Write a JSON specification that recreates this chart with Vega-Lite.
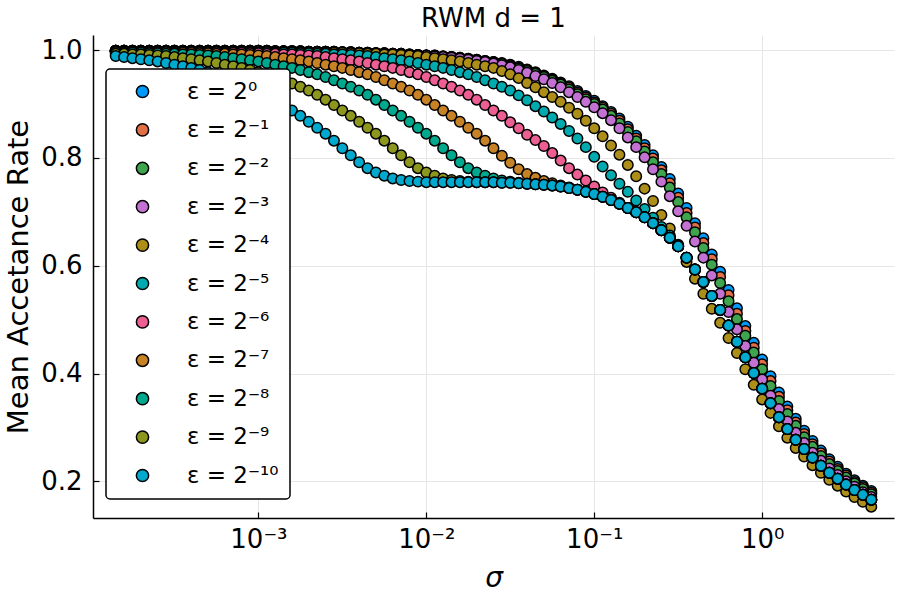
{
"$schema":"https://vega.github.io/schema/vega-lite/v6.json",
"width":801,"height":483,
"autosize":{"type":"none"},
"padding":{"left":93,"top":35,"right":6,"bottom":82},
"background":"white",
"title":{"text":"RWM d = 1","font":"DejaVu Sans","fontSize":26,"fontWeight":"normal","color":"black","anchor":"middle","offset":3},
"data":{"values":[
{"k":0,"s":1.413e-4,"a":0.999},{"k":0,"s":1.585e-4,"a":0.999},{"k":0,"s":1.778e-4,"a":0.999},{"k":0,"s":1.995e-4,"a":0.999},{"k":0,"s":2.239e-4,"a":0.999},{"k":0,"s":2.512e-4,"a":0.999},{"k":0,"s":2.818e-4,"a":0.999},{"k":0,"s":3.162e-4,"a":0.999},{"k":0,"s":3.548e-4,"a":0.999},{"k":0,"s":3.981e-4,"a":0.999},{"k":0,"s":4.467e-4,"a":0.999},{"k":0,"s":5.012e-4,"a":0.999},{"k":0,"s":5.623e-4,"a":0.999},{"k":0,"s":6.31e-4,"a":0.999},{"k":0,"s":7.079e-4,"a":0.999},{"k":0,"s":7.943e-4,"a":0.999},{"k":0,"s":8.913e-4,"a":0.999},{"k":0,"s":0.001,"a":0.999},{"k":0,"s":0.001122,"a":0.999},{"k":0,"s":0.001259,"a":0.998},{"k":0,"s":0.001413,"a":0.998},{"k":0,"s":0.001585,"a":0.998},{"k":0,"s":0.001778,"a":0.998},{"k":0,"s":0.001995,"a":0.997},{"k":0,"s":0.002239,"a":0.997},{"k":0,"s":0.002512,"a":0.997},{"k":0,"s":0.002818,"a":0.997},{"k":0,"s":0.003162,"a":0.996},{"k":0,"s":0.003548,"a":0.996},{"k":0,"s":0.003981,"a":0.995},{"k":0,"s":0.004467,"a":0.995},{"k":0,"s":0.005012,"a":0.994},{"k":0,"s":0.005623,"a":0.994},{"k":0,"s":0.00631,"a":0.993},{"k":0,"s":0.007079,"a":0.993},{"k":0,"s":0.007943,"a":0.992},{"k":0,"s":0.008913,"a":0.991},{"k":0,"s":0.01,"a":0.990},{"k":0,"s":0.01122,"a":0.990},{"k":0,"s":0.01259,"a":0.988},{"k":0,"s":0.01413,"a":0.987},{"k":0,"s":0.01585,"a":0.986},{"k":0,"s":0.01778,"a":0.984},{"k":0,"s":0.01995,"a":0.982},{"k":0,"s":0.02239,"a":0.980},{"k":0,"s":0.02512,"a":0.978},{"k":0,"s":0.02818,"a":0.976},{"k":0,"s":0.03162,"a":0.973},{"k":0,"s":0.03548,"a":0.969},{"k":0,"s":0.03981,"a":0.964},{"k":0,"s":0.04467,"a":0.959},{"k":0,"s":0.05012,"a":0.953},{"k":0,"s":0.05623,"a":0.947},{"k":0,"s":0.0631,"a":0.940},{"k":0,"s":0.07079,"a":0.933},{"k":0,"s":0.07943,"a":0.924},{"k":0,"s":0.08913,"a":0.915},{"k":0,"s":0.1,"a":0.906},{"k":0,"s":0.1122,"a":0.896},{"k":0,"s":0.1259,"a":0.885},{"k":0,"s":0.1413,"a":0.873},{"k":0,"s":0.1585,"a":0.858},{"k":0,"s":0.1778,"a":0.841},{"k":0,"s":0.1995,"a":0.824},{"k":0,"s":0.2239,"a":0.805},{"k":0,"s":0.2512,"a":0.783},{"k":0,"s":0.2818,"a":0.761},{"k":0,"s":0.3162,"a":0.734},{"k":0,"s":0.3548,"a":0.707},{"k":0,"s":0.3981,"a":0.679},{"k":0,"s":0.4467,"a":0.651},{"k":0,"s":0.5012,"a":0.621},{"k":0,"s":0.5623,"a":0.589},{"k":0,"s":0.631,"a":0.555},{"k":0,"s":0.7079,"a":0.521},{"k":0,"s":0.7943,"a":0.488},{"k":0,"s":0.8913,"a":0.457},{"k":0,"s":1,"a":0.426},{"k":0,"s":1.122,"a":0.395},{"k":0,"s":1.259,"a":0.365},{"k":0,"s":1.413,"a":0.339},{"k":0,"s":1.585,"a":0.316},{"k":0,"s":1.778,"a":0.294},{"k":0,"s":1.995,"a":0.275},{"k":0,"s":2.239,"a":0.257},{"k":0,"s":2.512,"a":0.241},{"k":0,"s":2.818,"a":0.227},{"k":0,"s":3.162,"a":0.214},{"k":0,"s":3.548,"a":0.202},{"k":0,"s":3.981,"a":0.192},{"k":0,"s":4.467,"a":0.182},
{"k":1,"s":1.413e-4,"a":0.999},{"k":1,"s":1.585e-4,"a":0.999},{"k":1,"s":1.778e-4,"a":0.999},{"k":1,"s":1.995e-4,"a":0.999},{"k":1,"s":2.239e-4,"a":0.999},{"k":1,"s":2.512e-4,"a":0.999},{"k":1,"s":2.818e-4,"a":0.999},{"k":1,"s":3.162e-4,"a":0.999},{"k":1,"s":3.548e-4,"a":0.999},{"k":1,"s":3.981e-4,"a":0.999},{"k":1,"s":4.467e-4,"a":0.999},{"k":1,"s":5.012e-4,"a":0.999},{"k":1,"s":5.623e-4,"a":0.999},{"k":1,"s":6.31e-4,"a":0.999},{"k":1,"s":7.079e-4,"a":0.999},{"k":1,"s":7.943e-4,"a":0.999},{"k":1,"s":8.913e-4,"a":0.999},{"k":1,"s":0.001,"a":0.999},{"k":1,"s":0.001122,"a":0.999},{"k":1,"s":0.001259,"a":0.998},{"k":1,"s":0.001413,"a":0.998},{"k":1,"s":0.001585,"a":0.998},{"k":1,"s":0.001778,"a":0.998},{"k":1,"s":0.001995,"a":0.997},{"k":1,"s":0.002239,"a":0.997},{"k":1,"s":0.002512,"a":0.997},{"k":1,"s":0.002818,"a":0.997},{"k":1,"s":0.003162,"a":0.996},{"k":1,"s":0.003548,"a":0.996},{"k":1,"s":0.003981,"a":0.995},{"k":1,"s":0.004467,"a":0.995},{"k":1,"s":0.005012,"a":0.994},{"k":1,"s":0.005623,"a":0.994},{"k":1,"s":0.00631,"a":0.993},{"k":1,"s":0.007079,"a":0.993},{"k":1,"s":0.007943,"a":0.992},{"k":1,"s":0.008913,"a":0.991},{"k":1,"s":0.01,"a":0.990},{"k":1,"s":0.01122,"a":0.990},{"k":1,"s":0.01259,"a":0.988},{"k":1,"s":0.01413,"a":0.987},{"k":1,"s":0.01585,"a":0.986},{"k":1,"s":0.01778,"a":0.984},{"k":1,"s":0.01995,"a":0.982},{"k":1,"s":0.02239,"a":0.980},{"k":1,"s":0.02512,"a":0.978},{"k":1,"s":0.02818,"a":0.975},{"k":1,"s":0.03162,"a":0.972},{"k":1,"s":0.03548,"a":0.967},{"k":1,"s":0.03981,"a":0.963},{"k":1,"s":0.04467,"a":0.957},{"k":1,"s":0.05012,"a":0.951},{"k":1,"s":0.05623,"a":0.945},{"k":1,"s":0.0631,"a":0.938},{"k":1,"s":0.07079,"a":0.930},{"k":1,"s":0.07943,"a":0.921},{"k":1,"s":0.08913,"a":0.912},{"k":1,"s":0.1,"a":0.903},{"k":1,"s":0.1122,"a":0.893},{"k":1,"s":0.1259,"a":0.882},{"k":1,"s":0.1413,"a":0.869},{"k":1,"s":0.1585,"a":0.853},{"k":1,"s":0.1778,"a":0.836},{"k":1,"s":0.1995,"a":0.818},{"k":1,"s":0.2239,"a":0.799},{"k":1,"s":0.2512,"a":0.777},{"k":1,"s":0.2818,"a":0.753},{"k":1,"s":0.3162,"a":0.726},{"k":1,"s":0.3548,"a":0.698},{"k":1,"s":0.3981,"a":0.671},{"k":1,"s":0.4467,"a":0.642},{"k":1,"s":0.5012,"a":0.612},{"k":1,"s":0.5623,"a":0.579},{"k":1,"s":0.631,"a":0.545},{"k":1,"s":0.7079,"a":0.511},{"k":1,"s":0.7943,"a":0.479},{"k":1,"s":0.8913,"a":0.448},{"k":1,"s":1,"a":0.417},{"k":1,"s":1.122,"a":0.386},{"k":1,"s":1.259,"a":0.357},{"k":1,"s":1.413,"a":0.332},{"k":1,"s":1.585,"a":0.309},{"k":1,"s":1.778,"a":0.288},{"k":1,"s":1.995,"a":0.269},{"k":1,"s":2.239,"a":0.252},{"k":1,"s":2.512,"a":0.237},{"k":1,"s":2.818,"a":0.223},{"k":1,"s":3.162,"a":0.211},{"k":1,"s":3.548,"a":0.199},{"k":1,"s":3.981,"a":0.189},{"k":1,"s":4.467,"a":0.179},
{"k":2,"s":1.413e-4,"a":0.999},{"k":2,"s":1.585e-4,"a":0.999},{"k":2,"s":1.778e-4,"a":0.999},{"k":2,"s":1.995e-4,"a":0.999},{"k":2,"s":2.239e-4,"a":0.999},{"k":2,"s":2.512e-4,"a":0.999},{"k":2,"s":2.818e-4,"a":0.999},{"k":2,"s":3.162e-4,"a":0.999},{"k":2,"s":3.548e-4,"a":0.999},{"k":2,"s":3.981e-4,"a":0.999},{"k":2,"s":4.467e-4,"a":0.999},{"k":2,"s":5.012e-4,"a":0.999},{"k":2,"s":5.623e-4,"a":0.999},{"k":2,"s":6.31e-4,"a":0.999},{"k":2,"s":7.079e-4,"a":0.999},{"k":2,"s":7.943e-4,"a":0.999},{"k":2,"s":8.913e-4,"a":0.999},{"k":2,"s":0.001,"a":0.999},{"k":2,"s":0.001122,"a":0.999},{"k":2,"s":0.001259,"a":0.998},{"k":2,"s":0.001413,"a":0.998},{"k":2,"s":0.001585,"a":0.998},{"k":2,"s":0.001778,"a":0.998},{"k":2,"s":0.001995,"a":0.997},{"k":2,"s":0.002239,"a":0.997},{"k":2,"s":0.002512,"a":0.997},{"k":2,"s":0.002818,"a":0.997},{"k":2,"s":0.003162,"a":0.996},{"k":2,"s":0.003548,"a":0.996},{"k":2,"s":0.003981,"a":0.995},{"k":2,"s":0.004467,"a":0.995},{"k":2,"s":0.005012,"a":0.994},{"k":2,"s":0.005623,"a":0.994},{"k":2,"s":0.00631,"a":0.993},{"k":2,"s":0.007079,"a":0.993},{"k":2,"s":0.007943,"a":0.992},{"k":2,"s":0.008913,"a":0.991},{"k":2,"s":0.01,"a":0.990},{"k":2,"s":0.01122,"a":0.989},{"k":2,"s":0.01259,"a":0.988},{"k":2,"s":0.01413,"a":0.987},{"k":2,"s":0.01585,"a":0.985},{"k":2,"s":0.01778,"a":0.983},{"k":2,"s":0.01995,"a":0.981},{"k":2,"s":0.02239,"a":0.979},{"k":2,"s":0.02512,"a":0.977},{"k":2,"s":0.02818,"a":0.974},{"k":2,"s":0.03162,"a":0.970},{"k":2,"s":0.03548,"a":0.966},{"k":2,"s":0.03981,"a":0.961},{"k":2,"s":0.04467,"a":0.956},{"k":2,"s":0.05012,"a":0.950},{"k":2,"s":0.05623,"a":0.943},{"k":2,"s":0.0631,"a":0.936},{"k":2,"s":0.07079,"a":0.927},{"k":2,"s":0.07943,"a":0.918},{"k":2,"s":0.08913,"a":0.909},{"k":2,"s":0.1,"a":0.900},{"k":2,"s":0.1122,"a":0.890},{"k":2,"s":0.1259,"a":0.878},{"k":2,"s":0.1413,"a":0.864},{"k":2,"s":0.1585,"a":0.848},{"k":2,"s":0.1778,"a":0.831},{"k":2,"s":0.1995,"a":0.812},{"k":2,"s":0.2239,"a":0.792},{"k":2,"s":0.2512,"a":0.770},{"k":2,"s":0.2818,"a":0.745},{"k":2,"s":0.3162,"a":0.718},{"k":2,"s":0.3548,"a":0.690},{"k":2,"s":0.3981,"a":0.662},{"k":2,"s":0.4467,"a":0.633},{"k":2,"s":0.5012,"a":0.602},{"k":2,"s":0.5623,"a":0.568},{"k":2,"s":0.631,"a":0.534},{"k":2,"s":0.7079,"a":0.501},{"k":2,"s":0.7943,"a":0.470},{"k":2,"s":0.8913,"a":0.439},{"k":2,"s":1,"a":0.408},{"k":2,"s":1.122,"a":0.377},{"k":2,"s":1.259,"a":0.349},{"k":2,"s":1.413,"a":0.325},{"k":2,"s":1.585,"a":0.303},{"k":2,"s":1.778,"a":0.282},{"k":2,"s":1.995,"a":0.264},{"k":2,"s":2.239,"a":0.247},{"k":2,"s":2.512,"a":0.232},{"k":2,"s":2.818,"a":0.219},{"k":2,"s":3.162,"a":0.207},{"k":2,"s":3.548,"a":0.196},{"k":2,"s":3.981,"a":0.186},{"k":2,"s":4.467,"a":0.176},
{"k":3,"s":1.413e-4,"a":0.999},{"k":3,"s":1.585e-4,"a":0.999},{"k":3,"s":1.778e-4,"a":0.999},{"k":3,"s":1.995e-4,"a":0.999},{"k":3,"s":2.239e-4,"a":0.999},{"k":3,"s":2.512e-4,"a":0.999},{"k":3,"s":2.818e-4,"a":0.999},{"k":3,"s":3.162e-4,"a":0.999},{"k":3,"s":3.548e-4,"a":0.999},{"k":3,"s":3.981e-4,"a":0.999},{"k":3,"s":4.467e-4,"a":0.999},{"k":3,"s":5.012e-4,"a":0.999},{"k":3,"s":5.623e-4,"a":0.999},{"k":3,"s":6.31e-4,"a":0.999},{"k":3,"s":7.079e-4,"a":0.999},{"k":3,"s":7.943e-4,"a":0.999},{"k":3,"s":8.913e-4,"a":0.999},{"k":3,"s":0.001,"a":0.999},{"k":3,"s":0.001122,"a":0.998},{"k":3,"s":0.001259,"a":0.998},{"k":3,"s":0.001413,"a":0.998},{"k":3,"s":0.001585,"a":0.998},{"k":3,"s":0.001778,"a":0.997},{"k":3,"s":0.001995,"a":0.997},{"k":3,"s":0.002239,"a":0.997},{"k":3,"s":0.002512,"a":0.997},{"k":3,"s":0.002818,"a":0.996},{"k":3,"s":0.003162,"a":0.996},{"k":3,"s":0.003548,"a":0.995},{"k":3,"s":0.003981,"a":0.995},{"k":3,"s":0.004467,"a":0.994},{"k":3,"s":0.005012,"a":0.994},{"k":3,"s":0.005623,"a":0.993},{"k":3,"s":0.00631,"a":0.993},{"k":3,"s":0.007079,"a":0.992},{"k":3,"s":0.007943,"a":0.991},{"k":3,"s":0.008913,"a":0.990},{"k":3,"s":0.01,"a":0.990},{"k":3,"s":0.01122,"a":0.988},{"k":3,"s":0.01259,"a":0.987},{"k":3,"s":0.01413,"a":0.986},{"k":3,"s":0.01585,"a":0.984},{"k":3,"s":0.01778,"a":0.982},{"k":3,"s":0.01995,"a":0.980},{"k":3,"s":0.02239,"a":0.978},{"k":3,"s":0.02512,"a":0.975},{"k":3,"s":0.02818,"a":0.972},{"k":3,"s":0.03162,"a":0.968},{"k":3,"s":0.03548,"a":0.963},{"k":3,"s":0.03981,"a":0.958},{"k":3,"s":0.04467,"a":0.952},{"k":3,"s":0.05012,"a":0.946},{"k":3,"s":0.05623,"a":0.939},{"k":3,"s":0.0631,"a":0.931},{"k":3,"s":0.07079,"a":0.922},{"k":3,"s":0.07943,"a":0.913},{"k":3,"s":0.08913,"a":0.904},{"k":3,"s":0.1,"a":0.894},{"k":3,"s":0.1122,"a":0.883},{"k":3,"s":0.1259,"a":0.870},{"k":3,"s":0.1413,"a":0.855},{"k":3,"s":0.1585,"a":0.838},{"k":3,"s":0.1778,"a":0.820},{"k":3,"s":0.1995,"a":0.801},{"k":3,"s":0.2239,"a":0.779},{"k":3,"s":0.2512,"a":0.756},{"k":3,"s":0.2818,"a":0.729},{"k":3,"s":0.3162,"a":0.701},{"k":3,"s":0.3548,"a":0.674},{"k":3,"s":0.3981,"a":0.645},{"k":3,"s":0.4467,"a":0.615},{"k":3,"s":0.5012,"a":0.582},{"k":3,"s":0.5623,"a":0.548},{"k":3,"s":0.631,"a":0.514},{"k":3,"s":0.7079,"a":0.482},{"k":3,"s":0.7943,"a":0.451},{"k":3,"s":0.8913,"a":0.420},{"k":3,"s":1,"a":0.389},{"k":3,"s":1.122,"a":0.359},{"k":3,"s":1.259,"a":0.334},{"k":3,"s":1.413,"a":0.311},{"k":3,"s":1.585,"a":0.290},{"k":3,"s":1.778,"a":0.271},{"k":3,"s":1.995,"a":0.253},{"k":3,"s":2.239,"a":0.238},{"k":3,"s":2.512,"a":0.224},{"k":3,"s":2.818,"a":0.212},{"k":3,"s":3.162,"a":0.200},{"k":3,"s":3.548,"a":0.190},{"k":3,"s":3.981,"a":0.180},{"k":3,"s":4.467,"a":0.171},
{"k":4,"s":1.413e-4,"a":0.999},{"k":4,"s":1.585e-4,"a":0.999},{"k":4,"s":1.778e-4,"a":0.999},{"k":4,"s":1.995e-4,"a":0.999},{"k":4,"s":2.239e-4,"a":0.999},{"k":4,"s":2.512e-4,"a":0.999},{"k":4,"s":2.818e-4,"a":0.999},{"k":4,"s":3.162e-4,"a":0.999},{"k":4,"s":3.548e-4,"a":0.998},{"k":4,"s":3.981e-4,"a":0.998},{"k":4,"s":4.467e-4,"a":0.998},{"k":4,"s":5.012e-4,"a":0.998},{"k":4,"s":5.623e-4,"a":0.998},{"k":4,"s":6.31e-4,"a":0.998},{"k":4,"s":7.079e-4,"a":0.998},{"k":4,"s":7.943e-4,"a":0.998},{"k":4,"s":8.913e-4,"a":0.998},{"k":4,"s":0.001,"a":0.998},{"k":4,"s":0.001122,"a":0.998},{"k":4,"s":0.001259,"a":0.997},{"k":4,"s":0.001413,"a":0.997},{"k":4,"s":0.001585,"a":0.997},{"k":4,"s":0.001778,"a":0.996},{"k":4,"s":0.001995,"a":0.996},{"k":4,"s":0.002239,"a":0.996},{"k":4,"s":0.002512,"a":0.995},{"k":4,"s":0.002818,"a":0.995},{"k":4,"s":0.003162,"a":0.995},{"k":4,"s":0.003548,"a":0.994},{"k":4,"s":0.003981,"a":0.994},{"k":4,"s":0.004467,"a":0.993},{"k":4,"s":0.005012,"a":0.993},{"k":4,"s":0.005623,"a":0.992},{"k":4,"s":0.00631,"a":0.992},{"k":4,"s":0.007079,"a":0.991},{"k":4,"s":0.007943,"a":0.990},{"k":4,"s":0.008913,"a":0.989},{"k":4,"s":0.01,"a":0.987},{"k":4,"s":0.01122,"a":0.985},{"k":4,"s":0.01259,"a":0.983},{"k":4,"s":0.01413,"a":0.981},{"k":4,"s":0.01585,"a":0.979},{"k":4,"s":0.01778,"a":0.976},{"k":4,"s":0.01995,"a":0.973},{"k":4,"s":0.02239,"a":0.970},{"k":4,"s":0.02512,"a":0.967},{"k":4,"s":0.02818,"a":0.961},{"k":4,"s":0.03162,"a":0.955},{"k":4,"s":0.03548,"a":0.948},{"k":4,"s":0.03981,"a":0.939},{"k":4,"s":0.04467,"a":0.931},{"k":4,"s":0.05012,"a":0.922},{"k":4,"s":0.05623,"a":0.913},{"k":4,"s":0.0631,"a":0.904},{"k":4,"s":0.07079,"a":0.893},{"k":4,"s":0.07943,"a":0.882},{"k":4,"s":0.08913,"a":0.869},{"k":4,"s":0.1,"a":0.855},{"k":4,"s":0.1122,"a":0.840},{"k":4,"s":0.1259,"a":0.823},{"k":4,"s":0.1413,"a":0.806},{"k":4,"s":0.1585,"a":0.787},{"k":4,"s":0.1778,"a":0.766},{"k":4,"s":0.1995,"a":0.743},{"k":4,"s":0.2239,"a":0.720},{"k":4,"s":0.2512,"a":0.694},{"k":4,"s":0.2818,"a":0.669},{"k":4,"s":0.3162,"a":0.639},{"k":4,"s":0.3548,"a":0.607},{"k":4,"s":0.3981,"a":0.576},{"k":4,"s":0.4467,"a":0.548},{"k":4,"s":0.5012,"a":0.520},{"k":4,"s":0.5623,"a":0.494},{"k":4,"s":0.631,"a":0.466},{"k":4,"s":0.7079,"a":0.438},{"k":4,"s":0.7943,"a":0.408},{"k":4,"s":0.8913,"a":0.379},{"k":4,"s":1,"a":0.352},{"k":4,"s":1.122,"a":0.327},{"k":4,"s":1.259,"a":0.302},{"k":4,"s":1.413,"a":0.281},{"k":4,"s":1.585,"a":0.262},{"k":4,"s":1.778,"a":0.246},{"k":4,"s":1.995,"a":0.230},{"k":4,"s":2.239,"a":0.216},{"k":4,"s":2.512,"a":0.203},{"k":4,"s":2.818,"a":0.192},{"k":4,"s":3.162,"a":0.181},{"k":4,"s":3.548,"a":0.171},{"k":4,"s":3.981,"a":0.162},{"k":4,"s":4.467,"a":0.153},
{"k":5,"s":1.413e-4,"a":0.999},{"k":5,"s":1.585e-4,"a":0.999},{"k":5,"s":1.778e-4,"a":0.998},{"k":5,"s":1.995e-4,"a":0.998},{"k":5,"s":2.239e-4,"a":0.998},{"k":5,"s":2.512e-4,"a":0.998},{"k":5,"s":2.818e-4,"a":0.998},{"k":5,"s":3.162e-4,"a":0.998},{"k":5,"s":3.548e-4,"a":0.998},{"k":5,"s":3.981e-4,"a":0.998},{"k":5,"s":4.467e-4,"a":0.998},{"k":5,"s":5.012e-4,"a":0.998},{"k":5,"s":5.623e-4,"a":0.998},{"k":5,"s":6.31e-4,"a":0.997},{"k":5,"s":7.079e-4,"a":0.997},{"k":5,"s":7.943e-4,"a":0.997},{"k":5,"s":8.913e-4,"a":0.996},{"k":5,"s":0.001,"a":0.996},{"k":5,"s":0.001122,"a":0.996},{"k":5,"s":0.001259,"a":0.995},{"k":5,"s":0.001413,"a":0.995},{"k":5,"s":0.001585,"a":0.995},{"k":5,"s":0.001778,"a":0.994},{"k":5,"s":0.001995,"a":0.994},{"k":5,"s":0.002239,"a":0.993},{"k":5,"s":0.002512,"a":0.993},{"k":5,"s":0.002818,"a":0.992},{"k":5,"s":0.003162,"a":0.992},{"k":5,"s":0.003548,"a":0.991},{"k":5,"s":0.003981,"a":0.990},{"k":5,"s":0.004467,"a":0.989},{"k":5,"s":0.005012,"a":0.987},{"k":5,"s":0.005623,"a":0.985},{"k":5,"s":0.00631,"a":0.983},{"k":5,"s":0.007079,"a":0.981},{"k":5,"s":0.007943,"a":0.979},{"k":5,"s":0.008913,"a":0.976},{"k":5,"s":0.01,"a":0.973},{"k":5,"s":0.01122,"a":0.970},{"k":5,"s":0.01259,"a":0.967},{"k":5,"s":0.01413,"a":0.963},{"k":5,"s":0.01585,"a":0.959},{"k":5,"s":0.01778,"a":0.955},{"k":5,"s":0.01995,"a":0.950},{"k":5,"s":0.02239,"a":0.944},{"k":5,"s":0.02512,"a":0.938},{"k":5,"s":0.02818,"a":0.932},{"k":5,"s":0.03162,"a":0.925},{"k":5,"s":0.03548,"a":0.916},{"k":5,"s":0.03981,"a":0.907},{"k":5,"s":0.04467,"a":0.896},{"k":5,"s":0.05012,"a":0.886},{"k":5,"s":0.05623,"a":0.875},{"k":5,"s":0.0631,"a":0.863},{"k":5,"s":0.07079,"a":0.850},{"k":5,"s":0.07943,"a":0.836},{"k":5,"s":0.08913,"a":0.820},{"k":5,"s":0.1,"a":0.802},{"k":5,"s":0.1122,"a":0.784},{"k":5,"s":0.1259,"a":0.768},{"k":5,"s":0.1413,"a":0.752},{"k":5,"s":0.1585,"a":0.737},{"k":5,"s":0.1778,"a":0.721},{"k":5,"s":0.1995,"a":0.705},{"k":5,"s":0.2239,"a":0.689},{"k":5,"s":0.2512,"a":0.672},{"k":5,"s":0.2818,"a":0.656},{"k":5,"s":0.3162,"a":0.636},{"k":5,"s":0.3548,"a":0.615},{"k":5,"s":0.3981,"a":0.593},{"k":5,"s":0.4467,"a":0.570},{"k":5,"s":0.5012,"a":0.544},{"k":5,"s":0.5623,"a":0.518},{"k":5,"s":0.631,"a":0.489},{"k":5,"s":0.7079,"a":0.459},{"k":5,"s":0.7943,"a":0.430},{"k":5,"s":0.8913,"a":0.401},{"k":5,"s":1,"a":0.372},{"k":5,"s":1.122,"a":0.345},{"k":5,"s":1.259,"a":0.319},{"k":5,"s":1.413,"a":0.297},{"k":5,"s":1.585,"a":0.277},{"k":5,"s":1.778,"a":0.260},{"k":5,"s":1.995,"a":0.244},{"k":5,"s":2.239,"a":0.229},{"k":5,"s":2.512,"a":0.216},{"k":5,"s":2.818,"a":0.205},{"k":5,"s":3.162,"a":0.194},{"k":5,"s":3.548,"a":0.184},{"k":5,"s":3.981,"a":0.175},{"k":5,"s":4.467,"a":0.166},
{"k":6,"s":1.413e-4,"a":0.998},{"k":6,"s":1.585e-4,"a":0.998},{"k":6,"s":1.778e-4,"a":0.998},{"k":6,"s":1.995e-4,"a":0.998},{"k":6,"s":2.239e-4,"a":0.998},{"k":6,"s":2.512e-4,"a":0.998},{"k":6,"s":2.818e-4,"a":0.998},{"k":6,"s":3.162e-4,"a":0.997},{"k":6,"s":3.548e-4,"a":0.997},{"k":6,"s":3.981e-4,"a":0.997},{"k":6,"s":4.467e-4,"a":0.996},{"k":6,"s":5.012e-4,"a":0.996},{"k":6,"s":5.623e-4,"a":0.996},{"k":6,"s":6.31e-4,"a":0.995},{"k":6,"s":7.079e-4,"a":0.995},{"k":6,"s":7.943e-4,"a":0.995},{"k":6,"s":8.913e-4,"a":0.994},{"k":6,"s":0.001,"a":0.994},{"k":6,"s":0.001122,"a":0.993},{"k":6,"s":0.001259,"a":0.993},{"k":6,"s":0.001413,"a":0.992},{"k":6,"s":0.001585,"a":0.992},{"k":6,"s":0.001778,"a":0.991},{"k":6,"s":0.001995,"a":0.990},{"k":6,"s":0.002239,"a":0.989},{"k":6,"s":0.002512,"a":0.987},{"k":6,"s":0.002818,"a":0.985},{"k":6,"s":0.003162,"a":0.983},{"k":6,"s":0.003548,"a":0.981},{"k":6,"s":0.003981,"a":0.979},{"k":6,"s":0.004467,"a":0.976},{"k":6,"s":0.005012,"a":0.973},{"k":6,"s":0.005623,"a":0.970},{"k":6,"s":0.00631,"a":0.967},{"k":6,"s":0.007079,"a":0.963},{"k":6,"s":0.007943,"a":0.959},{"k":6,"s":0.008913,"a":0.955},{"k":6,"s":0.01,"a":0.950},{"k":6,"s":0.01122,"a":0.944},{"k":6,"s":0.01259,"a":0.938},{"k":6,"s":0.01413,"a":0.932},{"k":6,"s":0.01585,"a":0.925},{"k":6,"s":0.01778,"a":0.917},{"k":6,"s":0.01995,"a":0.908},{"k":6,"s":0.02239,"a":0.898},{"k":6,"s":0.02512,"a":0.888},{"k":6,"s":0.02818,"a":0.878},{"k":6,"s":0.03162,"a":0.866},{"k":6,"s":0.03548,"a":0.855},{"k":6,"s":0.03981,"a":0.843},{"k":6,"s":0.04467,"a":0.833},{"k":6,"s":0.05012,"a":0.822},{"k":6,"s":0.05623,"a":0.809},{"k":6,"s":0.0631,"a":0.795},{"k":6,"s":0.07079,"a":0.781},{"k":6,"s":0.07943,"a":0.769},{"k":6,"s":0.08913,"a":0.758},{"k":6,"s":0.1,"a":0.747},{"k":6,"s":0.1122,"a":0.736},{"k":6,"s":0.1259,"a":0.726},{"k":6,"s":0.1413,"a":0.717},{"k":6,"s":0.1585,"a":0.707},{"k":6,"s":0.1778,"a":0.699},{"k":6,"s":0.1995,"a":0.690},{"k":6,"s":0.2239,"a":0.679},{"k":6,"s":0.2512,"a":0.666},{"k":6,"s":0.2818,"a":0.652},{"k":6,"s":0.3162,"a":0.636},{"k":6,"s":0.3548,"a":0.615},{"k":6,"s":0.3981,"a":0.593},{"k":6,"s":0.4467,"a":0.570},{"k":6,"s":0.5012,"a":0.544},{"k":6,"s":0.5623,"a":0.518},{"k":6,"s":0.631,"a":0.489},{"k":6,"s":0.7079,"a":0.459},{"k":6,"s":0.7943,"a":0.430},{"k":6,"s":0.8913,"a":0.401},{"k":6,"s":1,"a":0.372},{"k":6,"s":1.122,"a":0.345},{"k":6,"s":1.259,"a":0.319},{"k":6,"s":1.413,"a":0.297},{"k":6,"s":1.585,"a":0.277},{"k":6,"s":1.778,"a":0.260},{"k":6,"s":1.995,"a":0.244},{"k":6,"s":2.239,"a":0.229},{"k":6,"s":2.512,"a":0.216},{"k":6,"s":2.818,"a":0.205},{"k":6,"s":3.162,"a":0.194},{"k":6,"s":3.548,"a":0.184},{"k":6,"s":3.981,"a":0.175},{"k":6,"s":4.467,"a":0.166},
{"k":7,"s":1.413e-4,"a":0.998},{"k":7,"s":1.585e-4,"a":0.997},{"k":7,"s":1.778e-4,"a":0.997},{"k":7,"s":1.995e-4,"a":0.997},{"k":7,"s":2.239e-4,"a":0.996},{"k":7,"s":2.512e-4,"a":0.996},{"k":7,"s":2.818e-4,"a":0.996},{"k":7,"s":3.162e-4,"a":0.995},{"k":7,"s":3.548e-4,"a":0.995},{"k":7,"s":3.981e-4,"a":0.995},{"k":7,"s":4.467e-4,"a":0.994},{"k":7,"s":5.012e-4,"a":0.994},{"k":7,"s":5.623e-4,"a":0.993},{"k":7,"s":6.31e-4,"a":0.993},{"k":7,"s":7.079e-4,"a":0.992},{"k":7,"s":7.943e-4,"a":0.992},{"k":7,"s":8.913e-4,"a":0.991},{"k":7,"s":0.001,"a":0.990},{"k":7,"s":0.001122,"a":0.989},{"k":7,"s":0.001259,"a":0.987},{"k":7,"s":0.001413,"a":0.985},{"k":7,"s":0.001585,"a":0.983},{"k":7,"s":0.001778,"a":0.981},{"k":7,"s":0.001995,"a":0.979},{"k":7,"s":0.002239,"a":0.976},{"k":7,"s":0.002512,"a":0.973},{"k":7,"s":0.002818,"a":0.970},{"k":7,"s":0.003162,"a":0.967},{"k":7,"s":0.003548,"a":0.963},{"k":7,"s":0.003981,"a":0.959},{"k":7,"s":0.004467,"a":0.955},{"k":7,"s":0.005012,"a":0.950},{"k":7,"s":0.005623,"a":0.944},{"k":7,"s":0.00631,"a":0.938},{"k":7,"s":0.007079,"a":0.932},{"k":7,"s":0.007943,"a":0.925},{"k":7,"s":0.008913,"a":0.917},{"k":7,"s":0.01,"a":0.908},{"k":7,"s":0.01122,"a":0.898},{"k":7,"s":0.01259,"a":0.888},{"k":7,"s":0.01413,"a":0.878},{"k":7,"s":0.01585,"a":0.867},{"k":7,"s":0.01778,"a":0.856},{"k":7,"s":0.01995,"a":0.845},{"k":7,"s":0.02239,"a":0.832},{"k":7,"s":0.02512,"a":0.818},{"k":7,"s":0.02818,"a":0.804},{"k":7,"s":0.03162,"a":0.791},{"k":7,"s":0.03548,"a":0.779},{"k":7,"s":0.03981,"a":0.770},{"k":7,"s":0.04467,"a":0.763},{"k":7,"s":0.05012,"a":0.757},{"k":7,"s":0.05623,"a":0.753},{"k":7,"s":0.0631,"a":0.749},{"k":7,"s":0.07079,"a":0.745},{"k":7,"s":0.07943,"a":0.741},{"k":7,"s":0.08913,"a":0.737},{"k":7,"s":0.1,"a":0.733},{"k":7,"s":0.1122,"a":0.728},{"k":7,"s":0.1259,"a":0.722},{"k":7,"s":0.1413,"a":0.715},{"k":7,"s":0.1585,"a":0.707},{"k":7,"s":0.1778,"a":0.699},{"k":7,"s":0.1995,"a":0.690},{"k":7,"s":0.2239,"a":0.679},{"k":7,"s":0.2512,"a":0.666},{"k":7,"s":0.2818,"a":0.652},{"k":7,"s":0.3162,"a":0.636},{"k":7,"s":0.3548,"a":0.615},{"k":7,"s":0.3981,"a":0.593},{"k":7,"s":0.4467,"a":0.570},{"k":7,"s":0.5012,"a":0.544},{"k":7,"s":0.5623,"a":0.518},{"k":7,"s":0.631,"a":0.489},{"k":7,"s":0.7079,"a":0.459},{"k":7,"s":0.7943,"a":0.430},{"k":7,"s":0.8913,"a":0.401},{"k":7,"s":1,"a":0.372},{"k":7,"s":1.122,"a":0.345},{"k":7,"s":1.259,"a":0.319},{"k":7,"s":1.413,"a":0.297},{"k":7,"s":1.585,"a":0.277},{"k":7,"s":1.778,"a":0.260},{"k":7,"s":1.995,"a":0.244},{"k":7,"s":2.239,"a":0.229},{"k":7,"s":2.512,"a":0.216},{"k":7,"s":2.818,"a":0.205},{"k":7,"s":3.162,"a":0.194},{"k":7,"s":3.548,"a":0.184},{"k":7,"s":3.981,"a":0.175},{"k":7,"s":4.467,"a":0.166},
{"k":8,"s":1.413e-4,"a":0.996},{"k":8,"s":1.585e-4,"a":0.995},{"k":8,"s":1.778e-4,"a":0.995},{"k":8,"s":1.995e-4,"a":0.995},{"k":8,"s":2.239e-4,"a":0.994},{"k":8,"s":2.512e-4,"a":0.994},{"k":8,"s":2.818e-4,"a":0.993},{"k":8,"s":3.162e-4,"a":0.993},{"k":8,"s":3.548e-4,"a":0.992},{"k":8,"s":3.981e-4,"a":0.992},{"k":8,"s":4.467e-4,"a":0.991},{"k":8,"s":5.012e-4,"a":0.990},{"k":8,"s":5.623e-4,"a":0.989},{"k":8,"s":6.31e-4,"a":0.987},{"k":8,"s":7.079e-4,"a":0.985},{"k":8,"s":7.943e-4,"a":0.983},{"k":8,"s":8.913e-4,"a":0.981},{"k":8,"s":0.001,"a":0.979},{"k":8,"s":0.001122,"a":0.976},{"k":8,"s":0.001259,"a":0.973},{"k":8,"s":0.001413,"a":0.970},{"k":8,"s":0.001585,"a":0.967},{"k":8,"s":0.001778,"a":0.963},{"k":8,"s":0.001995,"a":0.959},{"k":8,"s":0.002239,"a":0.955},{"k":8,"s":0.002512,"a":0.950},{"k":8,"s":0.002818,"a":0.944},{"k":8,"s":0.003162,"a":0.938},{"k":8,"s":0.003548,"a":0.932},{"k":8,"s":0.003981,"a":0.925},{"k":8,"s":0.004467,"a":0.917},{"k":8,"s":0.005012,"a":0.908},{"k":8,"s":0.005623,"a":0.898},{"k":8,"s":0.00631,"a":0.888},{"k":8,"s":0.007079,"a":0.878},{"k":8,"s":0.007943,"a":0.867},{"k":8,"s":0.008913,"a":0.856},{"k":8,"s":0.01,"a":0.845},{"k":8,"s":0.01122,"a":0.832},{"k":8,"s":0.01259,"a":0.818},{"k":8,"s":0.01413,"a":0.805},{"k":8,"s":0.01585,"a":0.792},{"k":8,"s":0.01778,"a":0.781},{"k":8,"s":0.01995,"a":0.773},{"k":8,"s":0.02239,"a":0.767},{"k":8,"s":0.02512,"a":0.762},{"k":8,"s":0.02818,"a":0.758},{"k":8,"s":0.03162,"a":0.756},{"k":8,"s":0.03548,"a":0.754},{"k":8,"s":0.03981,"a":0.752},{"k":8,"s":0.04467,"a":0.751},{"k":8,"s":0.05012,"a":0.750},{"k":8,"s":0.05623,"a":0.749},{"k":8,"s":0.0631,"a":0.747},{"k":8,"s":0.07079,"a":0.744},{"k":8,"s":0.07943,"a":0.741},{"k":8,"s":0.08913,"a":0.737},{"k":8,"s":0.1,"a":0.733},{"k":8,"s":0.1122,"a":0.728},{"k":8,"s":0.1259,"a":0.722},{"k":8,"s":0.1413,"a":0.715},{"k":8,"s":0.1585,"a":0.707},{"k":8,"s":0.1778,"a":0.699},{"k":8,"s":0.1995,"a":0.690},{"k":8,"s":0.2239,"a":0.679},{"k":8,"s":0.2512,"a":0.666},{"k":8,"s":0.2818,"a":0.652},{"k":8,"s":0.3162,"a":0.636},{"k":8,"s":0.3548,"a":0.615},{"k":8,"s":0.3981,"a":0.593},{"k":8,"s":0.4467,"a":0.570},{"k":8,"s":0.5012,"a":0.544},{"k":8,"s":0.5623,"a":0.518},{"k":8,"s":0.631,"a":0.489},{"k":8,"s":0.7079,"a":0.459},{"k":8,"s":0.7943,"a":0.430},{"k":8,"s":0.8913,"a":0.401},{"k":8,"s":1,"a":0.372},{"k":8,"s":1.122,"a":0.345},{"k":8,"s":1.259,"a":0.319},{"k":8,"s":1.413,"a":0.297},{"k":8,"s":1.585,"a":0.277},{"k":8,"s":1.778,"a":0.260},{"k":8,"s":1.995,"a":0.244},{"k":8,"s":2.239,"a":0.229},{"k":8,"s":2.512,"a":0.216},{"k":8,"s":2.818,"a":0.205},{"k":8,"s":3.162,"a":0.194},{"k":8,"s":3.548,"a":0.184},{"k":8,"s":3.981,"a":0.175},{"k":8,"s":4.467,"a":0.166},
{"k":9,"s":1.413e-4,"a":0.993},{"k":9,"s":1.585e-4,"a":0.993},{"k":9,"s":1.778e-4,"a":0.992},{"k":9,"s":1.995e-4,"a":0.992},{"k":9,"s":2.239e-4,"a":0.991},{"k":9,"s":2.512e-4,"a":0.990},{"k":9,"s":2.818e-4,"a":0.989},{"k":9,"s":3.162e-4,"a":0.987},{"k":9,"s":3.548e-4,"a":0.985},{"k":9,"s":3.981e-4,"a":0.983},{"k":9,"s":4.467e-4,"a":0.981},{"k":9,"s":5.012e-4,"a":0.979},{"k":9,"s":5.623e-4,"a":0.976},{"k":9,"s":6.31e-4,"a":0.973},{"k":9,"s":7.079e-4,"a":0.970},{"k":9,"s":7.943e-4,"a":0.967},{"k":9,"s":8.913e-4,"a":0.963},{"k":9,"s":0.001,"a":0.959},{"k":9,"s":0.001122,"a":0.955},{"k":9,"s":0.001259,"a":0.950},{"k":9,"s":0.001413,"a":0.944},{"k":9,"s":0.001585,"a":0.938},{"k":9,"s":0.001778,"a":0.932},{"k":9,"s":0.001995,"a":0.925},{"k":9,"s":0.002239,"a":0.917},{"k":9,"s":0.002512,"a":0.908},{"k":9,"s":0.002818,"a":0.898},{"k":9,"s":0.003162,"a":0.888},{"k":9,"s":0.003548,"a":0.878},{"k":9,"s":0.003981,"a":0.867},{"k":9,"s":0.004467,"a":0.856},{"k":9,"s":0.005012,"a":0.845},{"k":9,"s":0.005623,"a":0.832},{"k":9,"s":0.00631,"a":0.818},{"k":9,"s":0.007079,"a":0.805},{"k":9,"s":0.007943,"a":0.792},{"k":9,"s":0.008913,"a":0.781},{"k":9,"s":0.01,"a":0.773},{"k":9,"s":0.01122,"a":0.767},{"k":9,"s":0.01259,"a":0.762},{"k":9,"s":0.01413,"a":0.759},{"k":9,"s":0.01585,"a":0.757},{"k":9,"s":0.01778,"a":0.756},{"k":9,"s":0.01995,"a":0.755},{"k":9,"s":0.02239,"a":0.755},{"k":9,"s":0.02512,"a":0.755},{"k":9,"s":0.02818,"a":0.754},{"k":9,"s":0.03162,"a":0.754},{"k":9,"s":0.03548,"a":0.753},{"k":9,"s":0.03981,"a":0.752},{"k":9,"s":0.04467,"a":0.751},{"k":9,"s":0.05012,"a":0.750},{"k":9,"s":0.05623,"a":0.749},{"k":9,"s":0.0631,"a":0.747},{"k":9,"s":0.07079,"a":0.744},{"k":9,"s":0.07943,"a":0.741},{"k":9,"s":0.08913,"a":0.737},{"k":9,"s":0.1,"a":0.733},{"k":9,"s":0.1122,"a":0.728},{"k":9,"s":0.1259,"a":0.722},{"k":9,"s":0.1413,"a":0.715},{"k":9,"s":0.1585,"a":0.707},{"k":9,"s":0.1778,"a":0.699},{"k":9,"s":0.1995,"a":0.690},{"k":9,"s":0.2239,"a":0.679},{"k":9,"s":0.2512,"a":0.666},{"k":9,"s":0.2818,"a":0.652},{"k":9,"s":0.3162,"a":0.636},{"k":9,"s":0.3548,"a":0.615},{"k":9,"s":0.3981,"a":0.593},{"k":9,"s":0.4467,"a":0.570},{"k":9,"s":0.5012,"a":0.544},{"k":9,"s":0.5623,"a":0.518},{"k":9,"s":0.631,"a":0.489},{"k":9,"s":0.7079,"a":0.459},{"k":9,"s":0.7943,"a":0.430},{"k":9,"s":0.8913,"a":0.401},{"k":9,"s":1,"a":0.372},{"k":9,"s":1.122,"a":0.345},{"k":9,"s":1.259,"a":0.319},{"k":9,"s":1.413,"a":0.297},{"k":9,"s":1.585,"a":0.277},{"k":9,"s":1.778,"a":0.260},{"k":9,"s":1.995,"a":0.244},{"k":9,"s":2.239,"a":0.229},{"k":9,"s":2.512,"a":0.216},{"k":9,"s":2.818,"a":0.205},{"k":9,"s":3.162,"a":0.194},{"k":9,"s":3.548,"a":0.184},{"k":9,"s":3.981,"a":0.175},{"k":9,"s":4.467,"a":0.166},
{"k":10,"s":1.413e-4,"a":0.989},{"k":10,"s":1.585e-4,"a":0.987},{"k":10,"s":1.778e-4,"a":0.985},{"k":10,"s":1.995e-4,"a":0.983},{"k":10,"s":2.239e-4,"a":0.981},{"k":10,"s":2.512e-4,"a":0.979},{"k":10,"s":2.818e-4,"a":0.976},{"k":10,"s":3.162e-4,"a":0.973},{"k":10,"s":3.548e-4,"a":0.970},{"k":10,"s":3.981e-4,"a":0.967},{"k":10,"s":4.467e-4,"a":0.963},{"k":10,"s":5.012e-4,"a":0.959},{"k":10,"s":5.623e-4,"a":0.955},{"k":10,"s":6.31e-4,"a":0.950},{"k":10,"s":7.079e-4,"a":0.944},{"k":10,"s":7.943e-4,"a":0.938},{"k":10,"s":8.913e-4,"a":0.932},{"k":10,"s":0.001,"a":0.925},{"k":10,"s":0.001122,"a":0.917},{"k":10,"s":0.001259,"a":0.908},{"k":10,"s":0.001413,"a":0.898},{"k":10,"s":0.001585,"a":0.888},{"k":10,"s":0.001778,"a":0.878},{"k":10,"s":0.001995,"a":0.867},{"k":10,"s":0.002239,"a":0.856},{"k":10,"s":0.002512,"a":0.845},{"k":10,"s":0.002818,"a":0.832},{"k":10,"s":0.003162,"a":0.818},{"k":10,"s":0.003548,"a":0.805},{"k":10,"s":0.003981,"a":0.792},{"k":10,"s":0.004467,"a":0.781},{"k":10,"s":0.005012,"a":0.773},{"k":10,"s":0.005623,"a":0.767},{"k":10,"s":0.00631,"a":0.762},{"k":10,"s":0.007079,"a":0.759},{"k":10,"s":0.007943,"a":0.757},{"k":10,"s":0.008913,"a":0.756},{"k":10,"s":0.01,"a":0.755},{"k":10,"s":0.01122,"a":0.755},{"k":10,"s":0.01259,"a":0.755},{"k":10,"s":0.01413,"a":0.755},{"k":10,"s":0.01585,"a":0.755},{"k":10,"s":0.01778,"a":0.755},{"k":10,"s":0.01995,"a":0.755},{"k":10,"s":0.02239,"a":0.755},{"k":10,"s":0.02512,"a":0.755},{"k":10,"s":0.02818,"a":0.754},{"k":10,"s":0.03162,"a":0.754},{"k":10,"s":0.03548,"a":0.753},{"k":10,"s":0.03981,"a":0.752},{"k":10,"s":0.04467,"a":0.751},{"k":10,"s":0.05012,"a":0.750},{"k":10,"s":0.05623,"a":0.749},{"k":10,"s":0.0631,"a":0.747},{"k":10,"s":0.07079,"a":0.744},{"k":10,"s":0.07943,"a":0.741},{"k":10,"s":0.08913,"a":0.737},{"k":10,"s":0.1,"a":0.733},{"k":10,"s":0.1122,"a":0.728},{"k":10,"s":0.1259,"a":0.722},{"k":10,"s":0.1413,"a":0.715},{"k":10,"s":0.1585,"a":0.707},{"k":10,"s":0.1778,"a":0.699},{"k":10,"s":0.1995,"a":0.690},{"k":10,"s":0.2239,"a":0.679},{"k":10,"s":0.2512,"a":0.666},{"k":10,"s":0.2818,"a":0.652},{"k":10,"s":0.3162,"a":0.636},{"k":10,"s":0.3548,"a":0.615},{"k":10,"s":0.3981,"a":0.593},{"k":10,"s":0.4467,"a":0.570},{"k":10,"s":0.5012,"a":0.544},{"k":10,"s":0.5623,"a":0.518},{"k":10,"s":0.631,"a":0.489},{"k":10,"s":0.7079,"a":0.459},{"k":10,"s":0.7943,"a":0.430},{"k":10,"s":0.8913,"a":0.401},{"k":10,"s":1,"a":0.372},{"k":10,"s":1.122,"a":0.345},{"k":10,"s":1.259,"a":0.319},{"k":10,"s":1.413,"a":0.297},{"k":10,"s":1.585,"a":0.277},{"k":10,"s":1.778,"a":0.260},{"k":10,"s":1.995,"a":0.244},{"k":10,"s":2.239,"a":0.229},{"k":10,"s":2.512,"a":0.216},{"k":10,"s":2.818,"a":0.205},{"k":10,"s":3.162,"a":0.194},{"k":10,"s":3.548,"a":0.184},{"k":10,"s":3.981,"a":0.175},{"k":10,"s":4.467,"a":0.166}
]},
"mark":{"type":"point","filled":true,"size":110,"stroke":"black","strokeWidth":1.5,"opacity":1},
"encoding":{
"x":{"field":"s","type":"quantitative","scale":{"type":"log","domain":[1.035e-4,6.1],"nice":false},
"axis":{"title":"σ","values":[0.001,0.01,0.1,1],"labelExpr":"datum.value > 0.5 ? '10⁰' : datum.value > 0.05 ? '10⁻¹' : datum.value > 0.005 ? '10⁻²' : '10⁻³'","titleFontStyle":"italic","titleFontSize":28,"titlePadding":12,"labelPadding":14,"tickSize":-6,"labelFlush":false}},
"y":{"field":"a","type":"quantitative","scale":{"domain":[0.132,1.028],"nice":false,"zero":false},
"axis":{"title":"Mean Accetance Rate","values":[0.2,0.4,0.6,0.8,1.0],"format":".1f","titleFontSize":29,"titlePadding":7,"labelPadding":17,"tickSize":-6}},
"color":{"field":"k","type":"nominal","scale":{"domain":[0,1,2,3,4,5,6,7,8,9,10],"range":["#009AFA","#E36F47","#3EA44E","#C371D2","#AC8E18","#00AAAE","#ED5E93","#C68225","#00A98D","#8E971D","#00A9CD"]},
"legend":{"orient":"none","legendX":13,"legendY":34,"title":null,"fillColor":"white","strokeColor":"black","cornerRadius":4,"padding":11,"symbolType":"circle","symbolSize":150,"symbolStrokeColor":"black","symbolStrokeWidth":1.5,"symbolOpacity":1,"symbolOffset":14,"labelOffset":33,"labelFont":"DejaVu Sans","labelFontSize":23,"labelColor":"black","rowPadding":14.4,
"labelExpr":"['ε = 2⁰','ε = 2⁻¹','ε = 2⁻²','ε = 2⁻³','ε = 2⁻⁴','ε = 2⁻⁵','ε = 2⁻⁶','ε = 2⁻⁷','ε = 2⁻⁸','ε = 2⁻⁹','ε = 2⁻¹⁰'][datum.value]",
"encode":{"legend":{"update":{"strokeWidth":{"value":1.5}}}}}}
},
"config":{
"view":{"stroke":null},
"axis":{"domainColor":"black","domainWidth":1.5,"tickColor":"black","tickWidth":1.2,"grid":true,"gridColor":"#e6e6e6","gridWidth":1,"labelFont":"DejaVu Sans","labelFontSize":26,"labelColor":"black","titleFont":"DejaVu Sans","titleColor":"black","titleFontWeight":"normal"}
}
}
